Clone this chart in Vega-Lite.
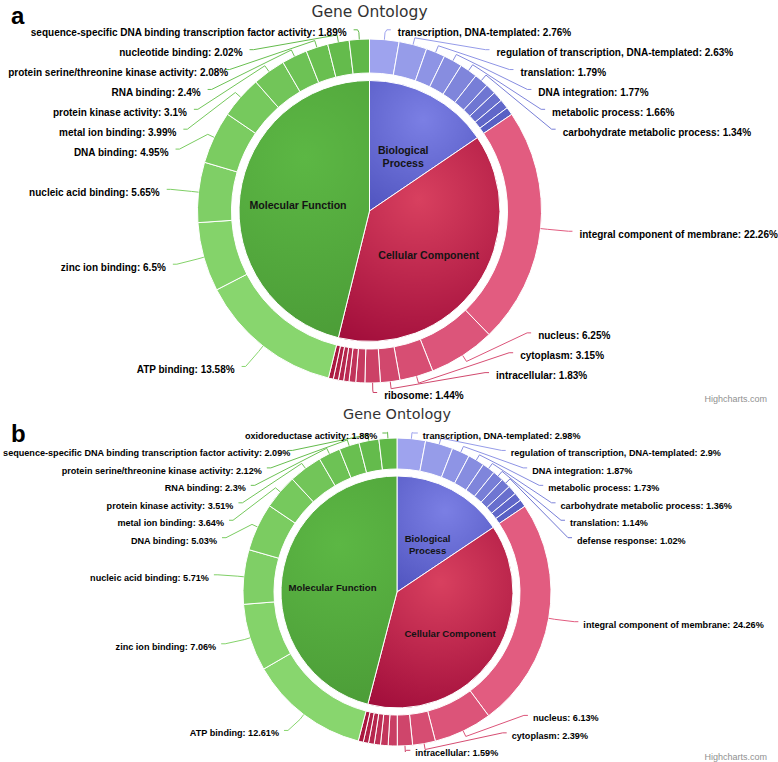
{
  "$schema": "https://vega.github.io/schema/vega-lite/v6.json",
  "width": 778,
  "height": 762,
  "autosize": {"type": "none"},
  "padding": 0,
  "background": "#ffffff",
  "config": {"view": {"stroke": null}, "text": {"font": "Liberation Sans"}},
  "layer": [
    {
      "data": {
        "values": [
          {"chart": "a", "group": "Biological Process", "name": "transcription, DNA-templated", "value": 2.76},
          {"chart": "a", "group": "Biological Process", "name": "regulation of transcription, DNA-templated", "value": 2.63},
          {"chart": "a", "group": "Biological Process", "name": "translation", "value": 1.79},
          {"chart": "a", "group": "Biological Process", "name": "DNA integration", "value": 1.77},
          {"chart": "a", "group": "Biological Process", "name": "metabolic process", "value": 1.66},
          {"chart": "a", "group": "Biological Process", "name": "carbohydrate metabolic process", "value": 1.34},
          {"chart": "a", "group": "Biological Process", "name": "other biological process term 1", "value": 0.99},
          {"chart": "a", "group": "Biological Process", "name": "other biological process term 2", "value": 0.94},
          {"chart": "a", "group": "Biological Process", "name": "other biological process term 3", "value": 0.88},
          {"chart": "a", "group": "Biological Process", "name": "other biological process term 4", "value": 0.74},
          {"chart": "a", "group": "Cellular Component", "name": "integral component of membrane", "value": 22.26},
          {"chart": "a", "group": "Cellular Component", "name": "nucleus", "value": 6.25},
          {"chart": "a", "group": "Cellular Component", "name": "cytoplasm", "value": 3.15},
          {"chart": "a", "group": "Cellular Component", "name": "intracellular", "value": 1.83},
          {"chart": "a", "group": "Cellular Component", "name": "ribosome", "value": 1.44},
          {"chart": "a", "group": "Cellular Component", "name": "other cellular component term 1", "value": 0.85},
          {"chart": "a", "group": "Cellular Component", "name": "other cellular component term 2", "value": 0.63},
          {"chart": "a", "group": "Cellular Component", "name": "other cellular component term 3", "value": 0.5},
          {"chart": "a", "group": "Cellular Component", "name": "other cellular component term 4", "value": 0.49},
          {"chart": "a", "group": "Cellular Component", "name": "other cellular component term 5", "value": 0.48},
          {"chart": "a", "group": "Cellular Component", "name": "other cellular component term 6", "value": 0.46},
          {"chart": "a", "group": "Molecular Function", "name": "ATP binding", "value": 13.58},
          {"chart": "a", "group": "Molecular Function", "name": "zinc ion binding", "value": 6.5},
          {"chart": "a", "group": "Molecular Function", "name": "nucleic acid binding", "value": 5.65},
          {"chart": "a", "group": "Molecular Function", "name": "DNA binding", "value": 4.95},
          {"chart": "a", "group": "Molecular Function", "name": "metal ion binding", "value": 3.99},
          {"chart": "a", "group": "Molecular Function", "name": "protein kinase activity", "value": 3.1},
          {"chart": "a", "group": "Molecular Function", "name": "RNA binding", "value": 2.4},
          {"chart": "a", "group": "Molecular Function", "name": "protein serine/threonine kinase activity", "value": 2.08},
          {"chart": "a", "group": "Molecular Function", "name": "nucleotide binding", "value": 2.02},
          {"chart": "a", "group": "Molecular Function", "name": "sequence-specific DNA binding transcription factor activity", "value": 1.89},
          {"chart": "b", "group": "Biological Process", "name": "transcription, DNA-templated", "value": 2.98},
          {"chart": "b", "group": "Biological Process", "name": "regulation of transcription, DNA-templated", "value": 2.9},
          {"chart": "b", "group": "Biological Process", "name": "DNA integration", "value": 1.87},
          {"chart": "b", "group": "Biological Process", "name": "metabolic process", "value": 1.73},
          {"chart": "b", "group": "Biological Process", "name": "carbohydrate metabolic process", "value": 1.36},
          {"chart": "b", "group": "Biological Process", "name": "translation", "value": 1.14},
          {"chart": "b", "group": "Biological Process", "name": "defense response", "value": 1.02},
          {"chart": "b", "group": "Biological Process", "name": "other biological process term 1", "value": 0.95},
          {"chart": "b", "group": "Biological Process", "name": "other biological process term 2", "value": 0.88},
          {"chart": "b", "group": "Biological Process", "name": "other biological process term 3", "value": 0.77},
          {"chart": "b", "group": "Cellular Component", "name": "integral component of membrane", "value": 24.26},
          {"chart": "b", "group": "Cellular Component", "name": "nucleus", "value": 6.13},
          {"chart": "b", "group": "Cellular Component", "name": "cytoplasm", "value": 2.39},
          {"chart": "b", "group": "Cellular Component", "name": "intracellular", "value": 1.59},
          {"chart": "b", "group": "Cellular Component", "name": "other cellular component term 1", "value": 0.95},
          {"chart": "b", "group": "Cellular Component", "name": "other cellular component term 2", "value": 0.8},
          {"chart": "b", "group": "Cellular Component", "name": "other cellular component term 3", "value": 0.65},
          {"chart": "b", "group": "Cellular Component", "name": "other cellular component term 4", "value": 0.6},
          {"chart": "b", "group": "Cellular Component", "name": "other cellular component term 5", "value": 0.55},
          {"chart": "b", "group": "Cellular Component", "name": "other cellular component term 6", "value": 0.53},
          {"chart": "b", "group": "Molecular Function", "name": "ATP binding", "value": 12.61},
          {"chart": "b", "group": "Molecular Function", "name": "zinc ion binding", "value": 7.06},
          {"chart": "b", "group": "Molecular Function", "name": "nucleic acid binding", "value": 5.71},
          {"chart": "b", "group": "Molecular Function", "name": "DNA binding", "value": 5.03},
          {"chart": "b", "group": "Molecular Function", "name": "metal ion binding", "value": 3.64},
          {"chart": "b", "group": "Molecular Function", "name": "protein kinase activity", "value": 3.51},
          {"chart": "b", "group": "Molecular Function", "name": "RNA binding", "value": 2.3},
          {"chart": "b", "group": "Molecular Function", "name": "protein serine/threonine kinase activity", "value": 2.12},
          {"chart": "b", "group": "Molecular Function", "name": "sequence-specific DNA binding transcription factor activity", "value": 2.09},
          {"chart": "b", "group": "Molecular Function", "name": "oxidoreductase activity", "value": 1.88}
        ]
      },
      "transform": [
        {"calculate": "datum.chart === 'a' ? 369.5 : 397", "as": "cx"},
        {"calculate": "datum.chart === 'a' ? 211 : 592", "as": "cy"},
        {"calculate": "datum.chart === 'a' ? 172 : 154", "as": "R"},
        {"calculate": "datum.chart === 'a' ? 138 : 123", "as": "Ri"},
        {"calculate": "datum.chart === 'a' ? 130.5 : 116", "as": "Rp"},
        {"calculate": "datum.chart === 'a' ? 72 : 65", "as": "ir"},
        {"calculate": "datum.chart === 'a' ? 200 : 180", "as": "Lx"},
        {"calculate": "datum.chart === 'a' ? 198 : 174", "as": "Ly"},
        {"calculate": "datum.chart === 'a' ? 19.88 : 17.45", "as": "S"},
        {"calculate": "datum.chart === 'a' ? 29.8 : 433", "as": "T"},
        {"calculate": "datum.chart === 'a' ? 392.5 : 750.3", "as": "B"},
        {"calculate": "datum.chart === 'a' ? 11 : 9", "as": "pad"},
        {"calculate": "datum.chart === 'a' ? 7 : 6", "as": "co"},
        {"calculate": "datum.chart === 'a' ? 3.5 : 3", "as": "fy"},
        {"calculate": "datum.chart === 'a' ? 10 : 9.1", "as": "fs"},
        {"calculate": "datum.chart === 'a' ? 10.6 : 9.6", "as": "fsi"},
        {"joinaggregate": [{"op": "sum", "field": "value", "as": "total"}], "groupby": ["chart"]},
        {"joinaggregate": [{"op": "count", "as": "n"}], "groupby": ["chart", "group"]},
        {"window": [{"op": "row_number", "as": "j"}], "groupby": ["chart", "group"], "sort": [{"field": "value", "order": "descending"}]},
        {"window": [{"op": "sum", "field": "value", "as": "cum"}], "groupby": ["chart"], "sort": [{"field": "group", "order": "ascending"}, {"field": "value", "order": "descending"}], "frame": [null, 0], "ignorePeers": true},
        {"calculate": "2*PI*(datum.cum - datum.value)/datum.total", "as": "a0"},
        {"calculate": "2*PI*datum.cum/datum.total", "as": "a1"},
        {"calculate": "(datum.a0 + datum.a1)/2", "as": "mid"},
        {"calculate": "datum.n > 1 ? (datum.j - 1)/(datum.n - 1) : 0", "as": "t"},
        {"calculate": "datum.group === 'Biological Process' ? 'rgb(' + round(158-70*datum.t) + ',' + round(163-67*datum.t) + ',' + round(238-42*datum.t) + ')' : datum.group === 'Cellular Component' ? 'rgb(' + round(226-56*datum.t) + ',' + round(92-68*datum.t) + ',' + round(128-64*datum.t) + ')' : 'rgb(' + round(136-40*datum.t) + ',' + round(214-30*datum.t) + ',' + round(110-38*datum.t) + ')'", "as": "fill"}
      ],
      "layer": [
        {
          "mark": {"type": "arc", "stroke": "#ffffff", "strokeWidth": 1},
          "encoding": {
            "x": {"field": "cx", "type": "quantitative", "scale": null},
            "y": {"field": "cy", "type": "quantitative", "scale": null},
            "theta": {"field": "a0", "type": "quantitative", "scale": null, "stack": null},
            "theta2": {"field": "a1"},
            "radius": {"field": "R", "type": "quantitative", "scale": null},
            "radius2": {"field": "Ri"},
            "color": {"field": "fill", "type": "nominal", "scale": null, "legend": null}
          }
        },
        {
          "transform": [
            {"aggregate": [{"op": "sum", "field": "value", "as": "gv"}], "groupby": ["chart", "group", "cx", "cy", "Rp", "ir", "total", "fsi"]},
            {"window": [{"op": "sum", "field": "gv", "as": "gcum"}], "groupby": ["chart"], "sort": [{"field": "group", "order": "ascending"}], "frame": [null, 0], "ignorePeers": true},
            {"calculate": "2*PI*(datum.gcum - datum.gv)/datum.total", "as": "g0"},
            {"calculate": "2*PI*datum.gcum/datum.total", "as": "g1"},
            {"calculate": "(datum.g0 + datum.g1)/2", "as": "gm"},
            {"calculate": "datum.cx + datum.ir*sin(datum.gm)", "as": "lx"},
            {"calculate": "datum.cy - datum.ir*cos(datum.gm)", "as": "ly"},
            {"calculate": "datum.group === 'Biological Process' ? 'Biological\\nProcess' : datum.group", "as": "glabel"}
          ],
          "layer": [
            {
              "transform": [{"filter": "datum.group === 'Biological Process'"}],
              "mark": {"type": "arc", "stroke": "#ffffff", "strokeWidth": 1,
                "fill": {"gradient": "radial", "x1": 0.5, "y1": 0.3, "r1": 0, "x2": 0.5, "y2": 0.3, "r2": 0.8,
                  "stops": [{"offset": 0, "color": "#7b7fe4"}, {"offset": 1, "color": "#5054bf"}]}},
              "encoding": {
                "x": {"field": "cx", "type": "quantitative", "scale": null},
                "y": {"field": "cy", "type": "quantitative", "scale": null},
                "theta": {"field": "g0", "type": "quantitative", "scale": null, "stack": null},
                "theta2": {"field": "g1"},
                "radius": {"field": "Rp", "type": "quantitative", "scale": null}
              }
            },
            {
              "transform": [{"filter": "datum.group === 'Cellular Component'"}],
              "mark": {"type": "arc", "stroke": "#ffffff", "strokeWidth": 1,
                "fill": {"gradient": "radial", "x1": 0.5, "y1": 0.3, "r1": 0, "x2": 0.5, "y2": 0.3, "r2": 0.8,
                  "stops": [{"offset": 0, "color": "#d8405f"}, {"offset": 1, "color": "#a00c3a"}]}},
              "encoding": {
                "x": {"field": "cx", "type": "quantitative", "scale": null},
                "y": {"field": "cy", "type": "quantitative", "scale": null},
                "theta": {"field": "g0", "type": "quantitative", "scale": null, "stack": null},
                "theta2": {"field": "g1"},
                "radius": {"field": "Rp", "type": "quantitative", "scale": null}
              }
            },
            {
              "transform": [{"filter": "datum.group === 'Molecular Function'"}],
              "mark": {"type": "arc", "stroke": "#ffffff", "strokeWidth": 1,
                "fill": {"gradient": "radial", "x1": 0.5, "y1": 0.3, "r1": 0, "x2": 0.5, "y2": 0.3, "r2": 0.8,
                  "stops": [{"offset": 0, "color": "#5cb744"}, {"offset": 1, "color": "#4a9a36"}]}},
              "encoding": {
                "x": {"field": "cx", "type": "quantitative", "scale": null},
                "y": {"field": "cy", "type": "quantitative", "scale": null},
                "theta": {"field": "g0", "type": "quantitative", "scale": null, "stack": null},
                "theta2": {"field": "g1"},
                "radius": {"field": "Rp", "type": "quantitative", "scale": null}
              }
            },
            {
              "mark": {"type": "text", "fontWeight": "bold", "baseline": "top", "align": "center", "dy": -1, "lineBreak": "\n", "lineHeight": 12.5, "color": "#141414"},
              "encoding": {
                "x": {"field": "lx", "type": "quantitative", "scale": null},
                "y": {"field": "ly", "type": "quantitative", "scale": null},
                "text": {"field": "glabel", "type": "nominal"},
                "size": {"field": "fsi", "type": "quantitative", "scale": null}
              }
            }
          ]
        },
        {
          "transform": [
            {"filter": "datum.value > 1"},
            {"calculate": "sin(datum.mid) >= 0 ? 'R' : 'L'", "as": "side"},
            {"calculate": "datum.cy - datum.Ly*cos(datum.mid)", "as": "ynat"},
            {"window": [{"op": "row_number", "as": "i"}], "groupby": ["chart", "side"], "sort": [{"field": "ynat", "order": "ascending"}]},
            {"calculate": "datum.ynat - datum.S*(datum.i - 1)", "as": "t1"},
            {"window": [{"op": "max", "field": "t1", "as": "m1"}], "groupby": ["chart", "side"], "sort": [{"field": "ynat", "order": "ascending"}], "frame": [null, 0], "ignorePeers": true},
            {"calculate": "max(datum.T, datum.m1) + datum.S*(datum.i - 1)", "as": "y1"},
            {"window": [{"op": "row_number", "as": "k"}], "groupby": ["chart", "side"], "sort": [{"field": "y1", "order": "descending"}]},
            {"calculate": "datum.y1 + datum.S*(datum.k - 1)", "as": "t2"},
            {"window": [{"op": "min", "field": "t2", "as": "m2"}], "groupby": ["chart", "side"], "sort": [{"field": "y1", "order": "descending"}], "frame": [null, 0], "ignorePeers": true},
            {"calculate": "min(datum.B, datum.m2) - datum.S*(datum.k - 1)", "as": "yl"},
            {"calculate": "abs(datum.yl - datum.T) < 0.01 || abs(datum.yl - datum.B) < 0.01", "as": "edge"},
            {"calculate": "datum.edge ? datum.ynat : datum.yl", "as": "yx"},
            {"calculate": "datum.Lx*sqrt(max(0, 1 - pow((datum.yx - datum.cy)/datum.Ly, 2)))", "as": "dx"},
            {"calculate": "datum.side === 'R' ? datum.cx + datum.dx : datum.cx - datum.dx", "as": "xl"},
            {"calculate": "datum.side === 'R' ? datum.xl + 4 : datum.xl - 4", "as": "xs"},
            {"calculate": "datum.name + ': ' + datum.value + '%'", "as": "label"},
            {"calculate": "length(datum.label)*0.475*datum.fs", "as": "tw"},
            {"calculate": "datum.side === 'R' ? min(datum.xl + datum.pad, 774 - datum.tw) : max(datum.xl - datum.pad, 5 + datum.tw)", "as": "xt"},
            {"calculate": "datum.yl + datum.fy", "as": "yt"},
            {"calculate": "datum.cx + (datum.R + datum.co)*sin(datum.mid)", "as": "bx"},
            {"calculate": "datum.cy - (datum.R + datum.co)*cos(datum.mid)", "as": "by"},
            {"calculate": "datum.cx + datum.R*sin(datum.mid)", "as": "px"},
            {"calculate": "datum.cy - datum.R*cos(datum.mid)", "as": "py"}
          ],
          "layer": [
            {
              "mark": {"type": "rule", "strokeWidth": 1},
              "encoding": {
                "x": {"field": "xs", "type": "quantitative", "scale": null},
                "x2": {"field": "xl"},
                "y": {"field": "yl", "type": "quantitative", "scale": null},
                "y2": {"field": "yl"},
                "color": {"field": "fill", "type": "nominal", "scale": null, "legend": null}
              }
            },
            {
              "mark": {"type": "rule", "strokeWidth": 1},
              "encoding": {
                "x": {"field": "xl", "type": "quantitative", "scale": null},
                "x2": {"field": "bx"},
                "y": {"field": "yl", "type": "quantitative", "scale": null},
                "y2": {"field": "by"},
                "color": {"field": "fill", "type": "nominal", "scale": null, "legend": null}
              }
            },
            {
              "mark": {"type": "rule", "strokeWidth": 1},
              "encoding": {
                "x": {"field": "bx", "type": "quantitative", "scale": null},
                "x2": {"field": "px"},
                "y": {"field": "by", "type": "quantitative", "scale": null},
                "y2": {"field": "py"},
                "color": {"field": "fill", "type": "nominal", "scale": null, "legend": null}
              }
            },
            {
              "transform": [{"filter": "datum.side === 'R'"}],
              "mark": {"type": "text", "align": "left", "baseline": "middle", "fontWeight": "bold", "color": "#000000"},
              "encoding": {
                "x": {"field": "xt", "type": "quantitative", "scale": null},
                "y": {"field": "yt", "type": "quantitative", "scale": null},
                "text": {"field": "label", "type": "nominal"},
                "size": {"field": "fs", "type": "quantitative", "scale": null}
              }
            },
            {
              "transform": [{"filter": "datum.side === 'L'"}],
              "mark": {"type": "text", "align": "right", "baseline": "middle", "fontWeight": "bold", "color": "#000000"},
              "encoding": {
                "x": {"field": "xt", "type": "quantitative", "scale": null},
                "y": {"field": "yt", "type": "quantitative", "scale": null},
                "text": {"field": "label", "type": "nominal"},
                "size": {"field": "fs", "type": "quantitative", "scale": null}
              }
            }
          ]
        }
      ]
    },
    {
      "data": {
        "values": [
          {"chart": "a", "tag": "a", "title": "Gene Ontology", "credit": "Highcharts.com"},
          {"chart": "b", "tag": "b", "title": "Gene Ontology", "credit": "Highcharts.com"}
        ]
      },
      "transform": [
        {"calculate": "datum.chart === 'a' ? 369.5 : 397", "as": "tx"},
        {"calculate": "datum.chart === 'a' ? 16.5 : 418.5", "as": "ty"},
        {"calculate": "datum.chart === 'a' ? 15.5 : 14.4", "as": "tfs"},
        {"calculate": "11", "as": "gx"},
        {"calculate": "datum.chart === 'a' ? 24 : 442", "as": "gy"},
        {"calculate": "767", "as": "crx"},
        {"calculate": "datum.chart === 'a' ? 402 : 760", "as": "cry"}
      ],
      "layer": [
        {
          "mark": {"type": "text", "font": "DejaVu Sans", "color": "#333333", "align": "center", "baseline": "alphabetic"},
          "encoding": {
            "x": {"field": "tx", "type": "quantitative", "scale": null},
            "y": {"field": "ty", "type": "quantitative", "scale": null},
            "text": {"field": "title", "type": "nominal"},
            "size": {"field": "tfs", "type": "quantitative", "scale": null}
          }
        },
        {
          "mark": {"type": "text", "fontWeight": "bold", "fontSize": 24, "align": "left", "baseline": "alphabetic", "color": "#000000"},
          "encoding": {
            "x": {"field": "gx", "type": "quantitative", "scale": null},
            "y": {"field": "gy", "type": "quantitative", "scale": null},
            "text": {"field": "tag", "type": "nominal"}
          }
        },
        {
          "mark": {"type": "text", "fontSize": 9, "color": "#909090", "align": "right", "baseline": "alphabetic"},
          "encoding": {
            "x": {"field": "crx", "type": "quantitative", "scale": null},
            "y": {"field": "cry", "type": "quantitative", "scale": null},
            "text": {"field": "credit", "type": "nominal"}
          }
        }
      ]
    }
  ]
}
